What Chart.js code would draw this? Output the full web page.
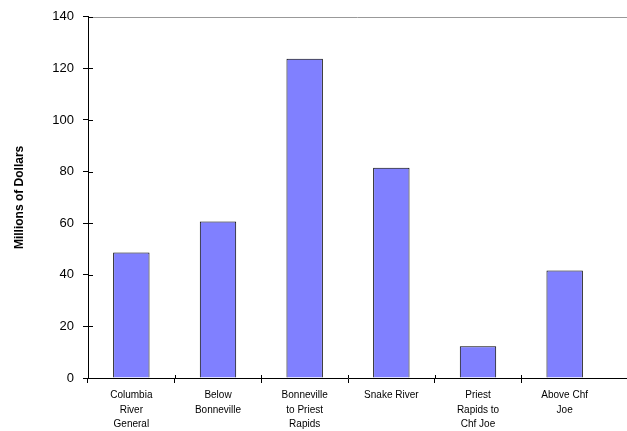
<!DOCTYPE html>
<html>
<head>
<meta charset="utf-8">
<script src="https://cdn.jsdelivr.net/npm/chart.js@4"></script>
<style>
  html, body { margin: 0; padding: 0; background: #fff; }
  #wrap { width: 627px; height: 431px; }
</style>
</head>
<body>
<div id="wrap"><canvas id="costChart"></canvas></div>
<script>
// data
const categories = [
  ['Columbia', 'River', 'General'],
  ['Below', 'Bonneville'],
  ['Bonneville', 'to Priest', 'Rapids'],
  ['Snake River'],
  ['Priest', 'Rapids to', 'Chf Joe'],
  ['Above Chf', 'Joe']
];
const costs = [48.6, 60.7, 123.7, 81.5, 12.3, 41.7];
const yTicks = [0, 20, 40, 60, 80, 100, 120, 140];

// extra axis bits: gray line at the top, ticks that cross the axes, lines run to the edge
const axisExtras = {
  id: 'axisExtras',
  afterDraw(chart) {
    const c = chart.ctx, a = chart.chartArea, y = chart.scales.y, x = chart.scales.x;
    c.save();
    c.lineWidth = 1;
    c.strokeStyle = '#999999';
    const yTop = Math.round(y.getPixelForValue(140)) + 0.5;
    c.beginPath(); c.moveTo(a.left, yTop); c.lineTo(chart.width, yTop); c.stroke();
    c.strokeStyle = '#000';
    const yBot = Math.round(a.bottom) + 0.5;
    c.beginPath(); c.moveTo(a.right, yBot); c.lineTo(chart.width, yBot); c.stroke();
    yTicks.forEach(v => {
      const py = Math.round(y.getPixelForValue(v)) + 0.5;
      c.beginPath(); c.moveTo(a.left, py); c.lineTo(a.left + 5, py); c.stroke();
    });
    for (let i = 1; i < categories.length; i++) {
      const px = Math.round((x.getPixelForTick(i - 1) + x.getPixelForTick(i)) / 2) + 0.5;
      c.beginPath(); c.moveTo(px, a.bottom); c.lineTo(px, a.bottom - 3); c.stroke();
    }
    c.restore();
  }
};

Chart.defaults.font.family = '"Liberation Sans", Arial, sans-serif';
Chart.defaults.color = '#000';

const ctx = document.getElementById('costChart').getContext('2d');
const costChart = new Chart(ctx, {
  type: 'bar',
  data: {
    labels: categories,
    datasets: [{
      data: costs,
      backgroundColor: '#8080ff',
      borderColor: '#000',
      borderWidth: 1,
      categoryPercentage: 1,
      barPercentage: 0.42
    }]
  },
  options: {
    responsive: true,
    maintainAspectRatio: false,
    animation: false,
    layout: { padding: { top: 15, right: 19, left: 12, bottom: 0 } },
    plugins: { legend: { display: false }, tooltip: { enabled: false } },
    scales: {
      x: {
        grid: {
          offset: true,
          drawOnChartArea: false,
          color: '#000',
          tickColor: c => (c.type === 'tick' ? '#000' : 'rgba(0,0,0,0)'),
          tickLength: 5
        },
        border: { color: '#000' },
        ticks: { font: { size: 10, lineHeight: 1.45 }, maxRotation: 0, padding: 5 },
        afterFit(s) { s.height = 53; }
      },
      y: {
        min: 0,
        max: 140,
        afterBuildTicks(s) { s.ticks = yTicks.map(v => ({ value: v })); },
        grid: { drawOnChartArea: false, color: '#000', tickLength: 5 },
        border: { color: '#000' },
        ticks: { font: { size: 13 }, padding: 9 },
        title: { display: true, text: 'Millions of Dollars', font: { size: 12, weight: 'bold' }, padding: { top: 0, bottom: 0 } },
        afterFit(s) { s.width = 76; }
      }
    }
  },
  plugins: [axisExtras]
});
</script>
</body>
</html>
